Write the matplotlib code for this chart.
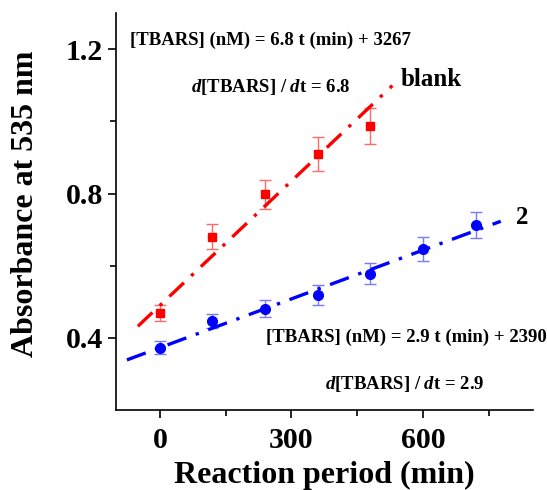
import numpy as np
import matplotlib
matplotlib.use("Agg")
import matplotlib.pyplot as plt

plt.rcParams['font.family'] = ['Liberation Serif', 'DejaVu Serif']
plt.rcParams['font.weight'] = 'bold'
plt.rcParams['mathtext.fontset'] = 'custom'
plt.rcParams['mathtext.it'] = 'Liberation Serif:italic:bold'
plt.rcParams['mathtext.rm'] = 'Liberation Serif:bold'

# data
t_blank = [0, 120, 240, 360, 480]
a_blank = [0.469, 0.681, 0.798, 0.910, 0.987]
e_blank = [0.023, 0.035, 0.040, 0.046, 0.050]

t_2 = [0, 120, 240, 360, 480, 600, 720]
a_2 = [0.373, 0.447, 0.481, 0.519, 0.578, 0.646, 0.712]
e_2 = [0.018, 0.020, 0.024, 0.027, 0.029, 0.033, 0.036]

# fitted lines (intercept, slope, range)
fit_blank = (0.490, 0.00115, (-50, 530))
fit_2 = (0.373, 0.000451, (-75, 777))


def fit_line(fit):
    b, m, (x0, x1) = fit
    x = np.array([x0, x1])
    return x, b + m * x


fig = plt.figure(figsize=(5.47, 4.9), dpi=100)
ax = fig.add_axes([0.212, 0.163, 0.762, 0.81])

ax.errorbar(t_blank, a_blank, yerr=e_blank, fmt='s', color='red', ms=6,
            ecolor='#ff6a6a', elinewidth=1, capsize=4, capthick=1, zorder=2)
ax.errorbar(t_2, a_2, yerr=e_2, fmt='o', color='blue', ms=7,
            ecolor='#7a7aff', elinewidth=1, capsize=4, capthick=1, zorder=2)

x, y = fit_line(fit_blank)
ax.plot(x, y, color='red', lw=2.4, dashes=(6, 3, 1, 3), zorder=3)
x, y = fit_line(fit_2)
ax.plot(x, y, color='blue', lw=2.4, dashes=(6, 3, 1, 3), zorder=3)

ax.set_xlim(-100, 850)
ax.set_ylim(0.2, 1.3)
ax.set_xticks([0, 300, 600])
ax.set_xticks([150, 450, 750], minor=True)
ax.set_yticks([0.4, 0.8, 1.2])
ax.set_yticks([0.6, 1.0], minor=True)
ax.spines['top'].set_visible(False)
ax.spines['right'].set_visible(False)
for s in ['left', 'bottom']:
    ax.spines[s].set_linewidth(1.2)
ax.tick_params(which='major', direction='out', length=6, width=1.2,
               labelsize=21.5)
ax.tick_params(axis='x', which='major', pad=6)
ax.tick_params(which='minor', direction='out', length=4, width=1.2)

ax.set_xlabel('Reaction period (min)', fontsize=23, fontweight='bold',
              labelpad=5)
ax.set_ylabel('Absorbance at 535 nm', fontsize=23, fontweight='bold')
ax.yaxis.set_label_coords(-0.183, 0.52)

ax.text(-67, 1.225, '[TBARS] (nM) = 6.8 t (min) + 3267', fontsize=13.5,
        fontweight='bold', va='center')
ax.text(70, 1.095, r'$d$[TBARS] / $d$t = 6.8', fontsize=13.5,
        fontweight='bold', va='center')
ax.text(548, 1.117, 'blank', fontsize=18, fontweight='bold', va='center')
ax.text(812, 0.733, '2', fontsize=18, fontweight='bold', va='center')
ax.text(241, 0.403, '[TBARS] (nM) = 2.9 t (min) + 2390', fontsize=13.5,
        fontweight='bold', va='center')
ax.text(376, 0.272, r'$d$[TBARS] / $d$t = 2.9', fontsize=13.5,
        fontweight='bold', va='center')

fig.savefig('out.png', dpi=100)
